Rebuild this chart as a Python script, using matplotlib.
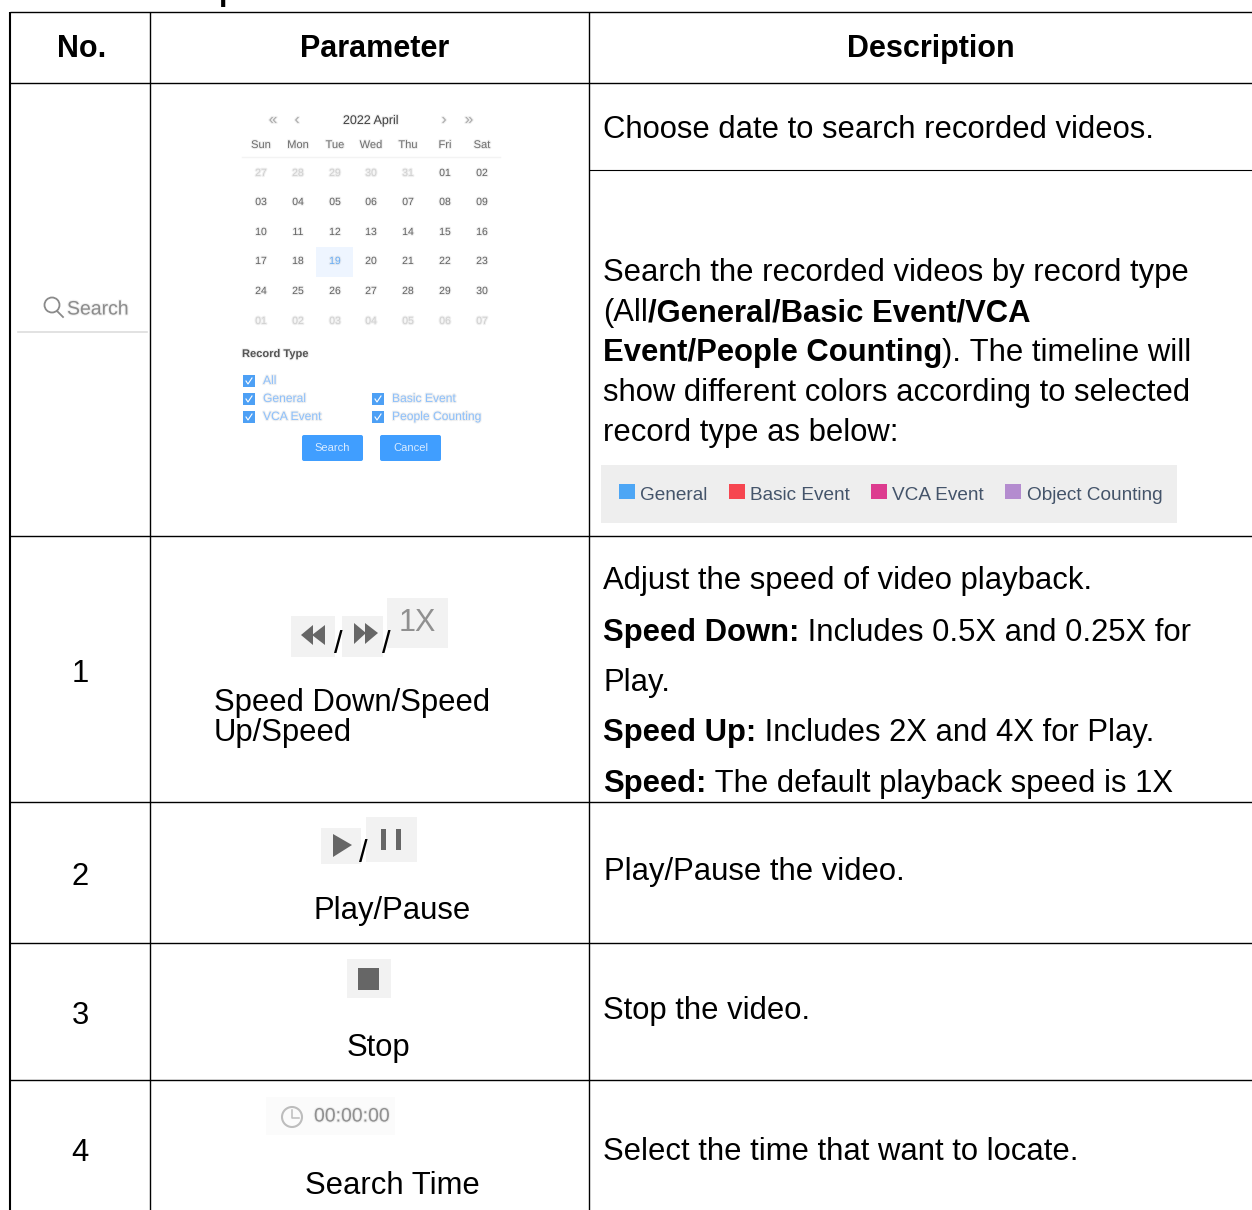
import matplotlib
matplotlib.use('Agg')
import matplotlib.pyplot as plt
import matplotlib.patheffects as pe
from matplotlib.patches import Rectangle, Circle, Polygon, FancyBboxPatch

plt.rcParams['font.family'] = ['Liberation Sans', 'DejaVu Sans']

# table text
headers = ['No.', 'Parameter', 'Description']
numbers = ['1', '2', '3', '4']
weekdays = ['Sun', 'Mon', 'Tue', 'Wed', 'Thu', 'Fri', 'Sat']
calendar_days = [['27', '28', '29', '30', '31', '01', '02'],
                 ['03', '04', '05', '06', '07', '08', '09'],
                 ['10', '11', '12', '13', '14', '15', '16'],
                 ['17', '18', '19', '20', '21', '22', '23'],
                 ['24', '25', '26', '27', '28', '29', '30'],
                 ['01', '02', '03', '04', '05', '06', '07']]
legend_names = ['General', 'Basic Event', 'VCA Event', 'Object Counting']
legend_colors = ['#4da6f5', '#f64650', '#dd3b8f', '#b48ccf']

# each line is a list of (text, is_bold) pieces
search_lines = [[('Search the recorded videos by record type', False)],
                [('(All', False), ('/General/Basic Event/VCA', True)],
                [('Event/People Counting', True), ('). The timeline will', False)],
                [('show different colors according to selected', False)],
                [('record type as below:', False)]]
speed_lines = [[('Adjust the speed of video playback.', False)],
               [('Speed Down:', True), (' Includes 0.5X and 0.25X for', False)],
               [('Play.', False)],
               [('Speed Up:', True), (' Includes 2X and 4X for Play.', False)],
               [('Speed:', True), (' The default playback speed is 1X', False)]]

W, H = 1252, 1210
fig = plt.figure(figsize=(W / 100, H / 100), dpi=100)
ax = fig.add_axes([0, 0, 1, 1])
ax.set_xlim(0, W)
ax.set_ylim(H, 0)
ax.axis('off')

BODY = 22.3
HEAD = 22
blur = [pe.withStroke(linewidth=1.6, foreground='#999999', alpha=0.14)]


def rich_line(x, y, pieces, size=BODY):
    r = fig.canvas.get_renderer()
    for s, bold in pieces:
        t = ax.text(x, y, s, fontsize=size, fontweight='bold' if bold else 'normal',
                    color='black', va='baseline', ha='left')
        # trailing/leading blanks are kept in the extent, so pieces can be chained
        t.set_text(s.replace(' ', '\u00a0'))
        x = ax.transData.inverted().transform(t.get_window_extent(r).max)[0]


def small(x, y, s, color='#666666', size=7.5, ha='center', weight='normal'):
    ax.text(x, y, s, fontsize=size, color=color, ha=ha, va='center',
            fontweight=weight, path_effects=blur)


def box(x0, y0, x1, y1, color):
    ax.add_patch(Rectangle((x0, y0), x1 - x0, y1 - y0, fc=color, ec='none'))


# grid lines
for y in [12, 83, 536, 802, 943, 1080]:
    ax.plot([10, W], [y, y], color='black', lw=1.0, solid_capstyle='butt')
ax.plot([589, W], [170, 170], color='black', lw=0.8, solid_capstyle='butt')
ax.plot([10, 10], [12, H], color='black', lw=1.5, solid_capstyle='butt')
for x in [150, 589]:
    ax.plot([x, x], [12, H], color='black', lw=1.0, solid_capstyle='butt')

# heading cut off by the top of the page
ax.text(228, 0, 'p', fontsize=HEAD, fontweight='bold', ha='center', va='baseline', clip_on=True)

# header row
for x, s in zip([82, 375, 931], headers):
    ax.text(x, 57, s, fontsize=HEAD, fontweight='bold', ha='center', va='baseline')

# row numbers
for y, s in zip([682, 885, 1024, 1161], numbers):
    ax.text(80, y, s, fontsize=BODY, ha='center', va='baseline')

# description column
rich_line(603, 138, [('Choose date to search recorded videos.', False)])
for y, line in zip([281, 321, 361, 401, 441], search_lines):
    rich_line(603, y, line)
for y, line in zip([589, 641, 691, 741, 792], speed_lines):
    rich_line(603, y, line)
rich_line(604, 880, [('Play/Pause the video.', False)])
rich_line(603, 1019, [('Stop the video.', False)])
rich_line(603, 1160, [('Select the time that want to locate.', False)])

# colour legend of the record types
box(601, 465, 1177, 523, '#eeeeee')
for sx, tx, s, c in zip([619, 729, 871, 1005], [640, 750, 892, 1027], legend_names, legend_colors):
    box(sx, 484, sx + 16, 499, c)
    ax.text(tx, 500, s, fontsize=13.7, color='#44546a', va='baseline')

# parameter column labels
ax.text(214, 711, 'Speed Down/Speed', fontsize=BODY, va='baseline')
ax.text(214, 741, 'Up/Speed', fontsize=BODY, va='baseline')
ax.text(313, 919, 'Play/Pause', fontsize=BODY, va='baseline')
ax.text(347, 1056, 'Stop', fontsize=BODY, va='baseline')
ax.text(305, 1194, 'Search Time', fontsize=BODY, va='baseline')

# search tab
ax.add_patch(Circle((52, 305), 7.5, fc='none', ec='#8a8a8a', lw=1.3))
ax.plot([57, 63], [311, 317], color='#8a8a8a', lw=1.3)
ax.text(67, 310, 'Search', fontsize=14, color='#8c8c8c', va='center', path_effects=blur)
ax.plot([18, 147], [332, 332], color='#dddddd', lw=1.2)

# calendar
col_x = [261, 298, 335, 371, 408, 445, 482]
row_y = [173, 202, 232, 261, 291, 321]
small(371, 121, '2022 April', '#444444', 9)
for x, s in zip([273, 297, 444, 469], ['«', '‹', '›', '»']):
    small(x, 120, s, '#aaaaaa', 11)
for x, s in zip(col_x, weekdays):
    small(x, 145, s, '#707070', 8)
ax.plot([242, 500], [157, 157], color='#f3f3f3', lw=1)
box(316, 247, 353, 277, '#eef5ff')
for i, (y, week) in enumerate(zip(row_y, calendar_days)):
    for j, (x, s) in enumerate(zip(col_x, week)):
        grey = (i == 0 and j < 5) or i == 5
        c = '#d0d0d0' if grey else '#666666'
        if s == '19':
            c = '#6aaef5'
        small(x, y, s, c)

# record type checkboxes
small(242, 354, 'Record Type', '#555555', 8, ha='left', weight='bold')
checks = [(243, 381, 'All'), (243, 399, 'General'), (372, 399, 'Basic Event'),
          (243, 417, 'VCA Event'), (372, 417, 'People Counting')]
for x, y, s in checks:
    box(x, y - 6, x + 12, y + 6, '#4da0f5')
    ax.plot([x + 3, x + 5, x + 9], [y, y + 3, y - 3], color='white', lw=0.8)
    small(x + 20, y, s, '#8fc1fb', 8.7, ha='left')
for x0, x1, s in [(302, 363, 'Search'), (380, 441, 'Cancel')]:
    ax.add_patch(FancyBboxPatch((x0 + 2, 437), x1 - x0 - 4, 22, boxstyle='round,pad=2',
                                fc='#409eff', ec='none'))
    ax.text((x0 + x1) / 2, 448, s, fontsize=8, color='#d8ebff', ha='center', va='center')

# speed icons
icon_grey = '#666666'
ax.text(338, 645, '/', fontsize=BODY, ha='center', va='center')
ax.text(386, 645, '/', fontsize=BODY, ha='center', va='center')
box(291, 616, 335, 657, '#f2f2f2')
box(342, 616, 383, 657, '#f2f2f2')
box(387, 598, 448, 648, '#f2f2f2')
ax.add_patch(Polygon([[301, 635], [313, 625], [313, 645]], fc=icon_grey))
ax.add_patch(Polygon([[312, 635], [325, 625], [325, 645]], fc=icon_grey))
ax.add_patch(Polygon([[354, 623], [366, 633], [354, 644]], fc=icon_grey))
ax.add_patch(Polygon([[365, 623], [378, 633], [365, 644]], fc=icon_grey))
ax.text(417, 623, '1X', fontsize=22, color='#909090', ha='center', va='center')

# play / pause icons
ax.text(363, 854, '/', fontsize=BODY, ha='center', va='center')
box(321, 828, 361, 864, '#f2f2f2')
box(366, 817, 417, 862, '#f2f2f2')
ax.add_patch(Polygon([[333, 834], [352, 845], [333, 857]], fc=icon_grey))
box(381, 829, 386, 850, icon_grey)
box(396, 829, 401, 850, icon_grey)

# stop icon
box(347, 959, 391, 998, '#f2f2f2')
box(358, 968, 379, 990, icon_grey)

# time search
box(266, 1097, 395, 1135, '#fbfbfb')
ax.add_patch(Circle((292, 1117), 10, fc='none', ec='#bdbdbd', lw=1.5))
ax.plot([292, 292, 299], [1110, 1118, 1118], color='#bdbdbd', lw=1.1)
ax.text(352, 1117, '00:00:00', fontsize=14, color='#909090', ha='center', va='center', path_effects=blur)

fig.savefig('out.png', dpi=100)
